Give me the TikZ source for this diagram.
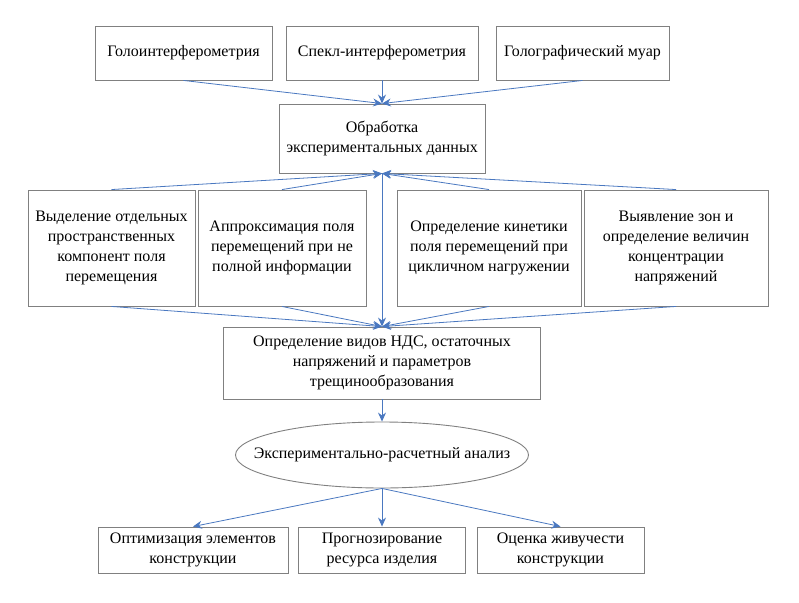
\documentclass[tikz,border=0pt]{standalone}
\usepackage{fontspec}
\setmainfont{Liberation Serif}
\usetikzlibrary{arrows.meta,shapes.geometric}
\definecolor{arrblue}{HTML}{4A78C0}
\definecolor{boxgray}{HTML}{808080}
\begin{document}
\begin{tikzpicture}[x=1pt, y=-1pt,
  box/.style={draw=boxgray, line width=0.9pt, align=center, inner sep=2pt, font=\fontsize{16}{20}\selectfont},
  oval/.style={draw=boxgray, line width=0.9pt, ellipse, inner xsep=-26pt, inner ysep=0pt, font=\fontsize{16}{20}\selectfont},
  arr/.style={arrblue, line width=0.8pt, -{Stealth[length=9pt, width=8pt, inset=3pt]}}
]
\useasboundingbox (0,0) rectangle (799,602);
% methods
\node[box, minimum width=177pt, minimum height=54pt] (holo) at (183.5,53) {Голоинтерферометрия};
\node[box, minimum width=192pt, minimum height=54pt] (speckle) at (382,53) {Спекл-интерферометрия};
\node[box, minimum width=173pt, minimum height=54pt] (moire) at (582.5,53) {Голографический муар};
% processing
\node[box, minimum width=206pt, minimum height=69pt] (proc) at (382,138.5) {Обработка\\экспериментальных данных};
\node[box, minimum width=167pt, minimum height=116pt] (sep) at (111.5,248) {Выделение отдельных\\пространственных\\компонент поля\\перемещения};
\node[box, minimum width=168pt, minimum height=116pt] (approx) at (282,248) {Аппроксимация поля\\перемещений при не\\полной информации};
\node[box, minimum width=184pt, minimum height=116pt] (kin) at (489,248) {Определение кинетики\\поля перемещений при\\цикличном нагружении};
\node[box, minimum width=184pt, minimum height=116pt] (zones) at (676,248) {Выявление зон и\\определение величин\\концентрации\\напряжений};
% stress state
\node[box, minimum width=317pt, minimum height=72pt] (nds) at (382,363) {Определение видов НДС, остаточных\\напряжений и параметров\\трещинообразования};
\node[oval, minimum width=293pt, minimum height=66pt] (anal) at (382,455) {Экспериментально-расчетный анализ};
% results
\node[box, minimum width=190pt, minimum height=46pt] (opt) at (193,550) {Оптимизация элементов\\конструкции};
\node[box, minimum width=167pt, minimum height=46pt] (res) at (382,550) {Прогнозирование\\ресурса изделия};
\node[box, minimum width=167pt, minimum height=46pt] (live) at (560.5,550) {Оценка живучести\\конструкции};
\draw[arr] (holo.south) -- (proc.north);
\draw[arr] (speckle.south) -- (proc.north);
\draw[arr] (moire.south) -- (proc.north);
\draw[arr] (sep.north) -- (proc.south);
\draw[arr] (approx.north) -- (proc.south);
\draw[arr] (kin.north) -- (proc.south);
\draw[arr] (zones.north) -- (proc.south);
\draw[arr] (proc.south) -- (nds.north);
\draw[arr] (sep.south) -- (nds.north);
\draw[arr] (approx.south) -- (nds.north);
\draw[arr] (kin.south) -- (nds.north);
\draw[arr] (zones.south) -- (nds.north);
\draw[arr] (nds.south) -- (anal.north);
\draw[arr] (anal.south) -- (opt.north);
\draw[arr] (anal.south) -- (res.north);
\draw[arr] (anal.south) -- (live.north);
\end{tikzpicture}
\end{document}
